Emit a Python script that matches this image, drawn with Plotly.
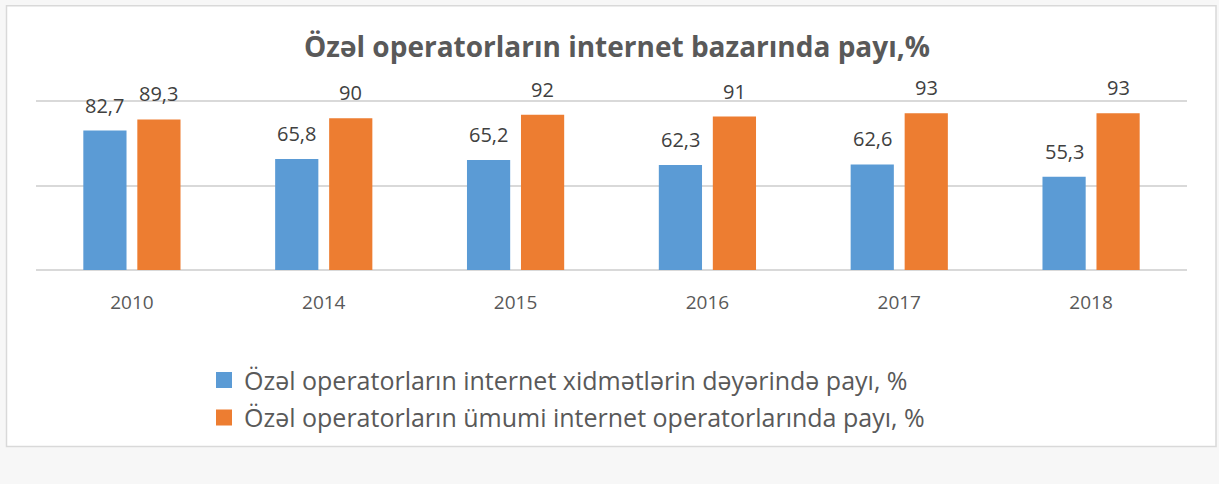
import plotly.graph_objects as go

categories = ["2010", "2014", "2015", "2016", "2017", "2018"]
series1_name = "Özəl operatorların internet xidmətlərin dəyərində payı, %"
series2_name = "Özəl operatorların ümumi internet operatorlarında payı, %"
series1_values = [82.7, 65.8, 65.2, 62.3, 62.6, 55.3]
series2_values = [89.3, 90, 92, 91, 93, 93]
title_text = "Özəl operatorların internet bazarında payı,%"

BLUE = "#5b9bd5"
ORANGE = "#ed7d31"
FONT = "Open Sans"

W, H = 1219, 484
Y_MAX = 102
L, R, T, B = 36, 32, 98, 213.5
pw, ph = W - L - R, H - T - B

bargap = 0.437
bargroupgap = 0.2

def fmt(v):
    return ("%g" % v).replace(".", ",")

fig = go.Figure()
fig.add_trace(go.Bar(x=categories, y=series1_values, name=series1_name,
                     marker=dict(color=BLUE, line=dict(width=0)), showlegend=False))
fig.add_trace(go.Bar(x=categories, y=series2_values, name=series2_name,
                     marker=dict(color=ORANGE, line=dict(width=0)), showlegend=False))
# legend entries (bigger square swatches than bar legend icons)
for nm, col, grp in [(series1_name, BLUE, "a"), (series2_name, ORANGE, "b")]:
    fig.add_trace(go.Scatter(x=[categories[0]], y=[None], mode="markers", name=nm, legendgroup=grp,
                             marker=dict(symbol="square", size=16, color=col)))

# data labels
cat_px = pw / len(categories)
grp_w = cat_px * (1 - bargap)
off = grp_w / 4
for vals, sh in [(series1_values, -off), (series2_values, off)]:
    for i, v in enumerate(vals):
        fig.add_annotation(x=i, y=v, text=fmt(v), showarrow=False, xshift=sh,
                           yanchor="bottom", yshift=10,
                           font=dict(family=FONT, size=20, color="#404040"))

def px2x(px):
    return (px - L) / pw

def py2y(py):
    return (H - B - py) / ph

# chart frame
fig.add_shape(type="rect", xref="paper", yref="paper",
              x0=px2x(6.5), x1=px2x(1216), y0=py2y(447.5), y1=py2y(5.5),
              fillcolor="white", line=dict(color="#d9d9d9", width=1.5), layer="below")

fig.update_layout(
    width=W, height=H,
    margin=dict(l=L, r=R, t=T, b=B),
    paper_bgcolor="#f7f7f7",
    plot_bgcolor="rgba(0,0,0,0)",
    barmode="group", bargap=bargap, bargroupgap=bargroupgap,
    title=dict(text="<b>" + title_text + "</b>", x=617 / W, xanchor="center",
               y=1 - 47 / H, yanchor="middle",
               font=dict(family=FONT, size=28, color="#595959")),
    xaxis=dict(type="category", categoryorder="array", categoryarray=categories,
               range=[-0.5, len(categories) - 0.5],
               showgrid=False, zeroline=False, showline=False, ticks="",
               tickfont=dict(family=FONT, size=19, color="#595959"),
               ticklabelstandoff=19, fixedrange=True),
    yaxis=dict(range=[0, Y_MAX], tickvals=[0, 50, 100], showticklabels=False,
               gridcolor="#d9d9d9", gridwidth=1.5, zeroline=True,
               zerolinecolor="#d9d9d9", zerolinewidth=2, showline=False),
    legend=dict(x=px2x(204), xanchor="left", y=py2y(358), yanchor="top",
                font=dict(family=FONT, size=25, color="#595959"),
                tracegroupgap=2, bgcolor="rgba(0,0,0,0)", itemclick=False),
    showlegend=True,
    hovermode=False,
)

fig.write_html("out.html", config={"displayModeBar": False},
               post_script="document.body.style.margin='0';document.body.style.background='#f7f7f7';")
